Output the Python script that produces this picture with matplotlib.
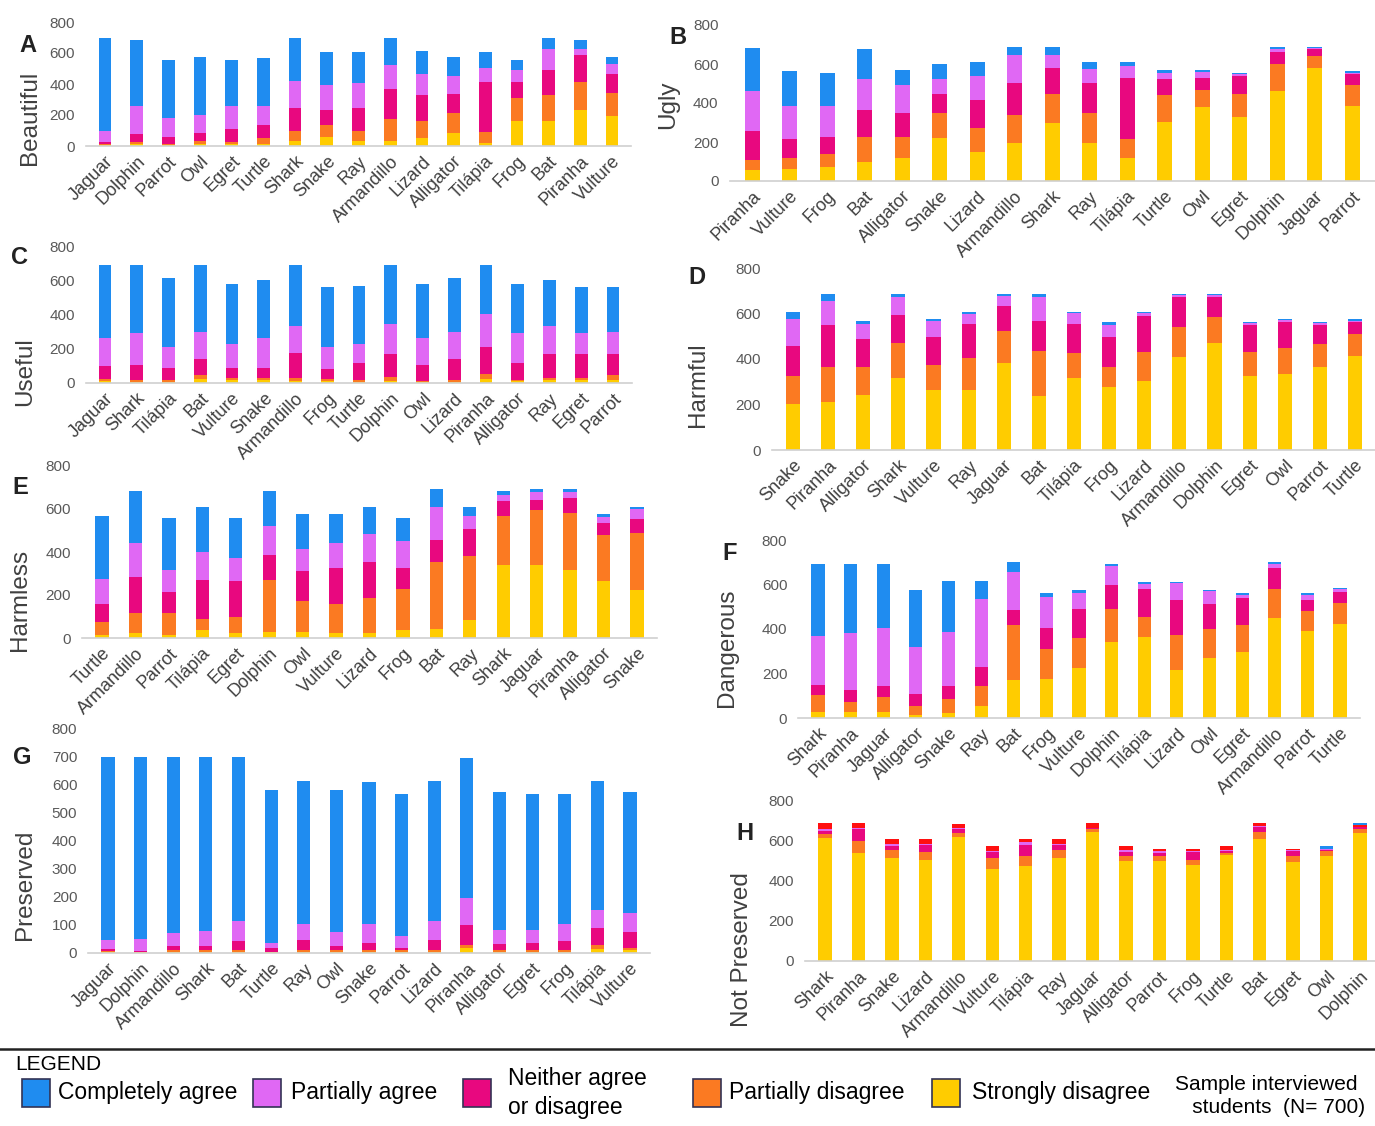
import matplotlib.pyplot as plt
import numpy as np
from matplotlib.patches import Rectangle
from matplotlib.lines import Line2D

plt.rcParams['font.family'] = ['Liberation Sans', 'DejaVu Sans']

# ---- data (counts of students, stacked bottom -> top) ----
levels = ["Strongly disagree", "Partially disagree", "Neither agree\nor disagree",
          "Partially agree", "Completely agree"]
colors = ["#ffcc00", "#fb7a22", "#e8087f", "#e068f4", "#1f8cf0"]
extra_red = "#ff1010"

# A - Beautiful
a_names = ["Jaguar", "Dolphin", "Parrot", "Owl", "Egret", "Turtle", "Shark", "Snake", "Ray",
           "Armandillo", "Lizard", "Alligator", "Tilápia", "Frog", "Bat", "Piranha", "Vulture"]
a_strong = [5, 10, 5, 15, 10, 13, 32, 61, 30, 30, 50, 86, 22, 164, 164, 231, 195]
a_pdis = [5, 18, 8, 17, 18, 37, 65, 75, 67, 143, 114, 124, 71, 143, 162, 182, 149]
a_neither = [18, 48, 48, 54, 80, 86, 145, 95, 145, 195, 165, 127, 322, 108, 167, 177, 119]
a_pagree = [70, 183, 118, 115, 149, 123, 175, 160, 164, 157, 138, 113, 91, 78, 132, 35, 69]
a_comp = [596, 424, 379, 376, 301, 307, 277, 217, 202, 169, 149, 127, 102, 65, 69, 58, 45]

# B - Ugly
b_names = ["Piranha", "Vulture", "Frog", "Bat", "Alligator", "Snake", "Lizard", "Armandillo", "Shark",
           "Ray", "Tilápia", "Turtle", "Owl", "Egret", "Dolphin", "Jaguar", "Parrot"]
b_strong = [55, 59, 72, 100, 119, 219, 150, 197, 297, 197, 119, 303, 379, 328, 459, 581, 386]
b_pdis = [52, 58, 69, 128, 109, 129, 121, 143, 150, 151, 98, 140, 90, 120, 143, 60, 107]
b_neither = [150, 100, 87, 134, 120, 100, 146, 163, 132, 155, 309, 78, 57, 93, 62, 38, 54]
b_pagree = [203, 166, 158, 162, 143, 76, 124, 142, 69, 69, 64, 34, 33, 7, 12, 4, 8]
b_comp = [224, 181, 169, 154, 80, 78, 69, 43, 40, 38, 20, 16, 12, 7, 12, 5, 9]

# C - Useful
c_names = ["Jaguar", "Shark", "Tilápia", "Bat", "Vulture", "Snake", "Armandillo", "Frog", "Turtle",
           "Dolphin", "Owl", "Lizard", "Piranha", "Alligator", "Ray", "Egret", "Parrot"]
c_strong = [12, 8, 8, 24, 16, 16, 12, 12, 8, 12, 6, 8, 24, 12, 16, 16, 20]
c_pdis = [13, 12, 12, 21, 13, 13, 19, 13, 12, 23, 6, 12, 31, 8, 15, 15, 25]
c_neither = [73, 86, 70, 98, 61, 61, 145, 57, 94, 134, 94, 123, 157, 94, 136, 136, 122]
c_pagree = [167, 188, 122, 157, 137, 171, 157, 130, 115, 176, 155, 157, 192, 180, 166, 127, 133]
c_comp = [425, 396, 400, 390, 351, 343, 357, 349, 340, 345, 317, 312, 286, 284, 271, 267, 261]

# D - Harmful
d_names = ["Snake", "Piranha", "Alligator", "Shark", "Vulture", "Ray", "Jaguar", "Bat", "Tilápia",
           "Frog", "Lizard", "Armandillo", "Dolphin", "Egret", "Owl", "Parrot", "Turtle"]
d_strong = [202, 211, 242, 315, 262, 262, 381, 236, 315, 275, 302, 407, 472, 327, 334, 366, 412]
d_pdis = [125, 154, 123, 155, 112, 144, 142, 201, 110, 90, 129, 135, 111, 104, 116, 100, 98]
d_neither = [132, 184, 124, 125, 124, 149, 111, 131, 130, 133, 159, 132, 91, 118, 113, 83, 54]
d_pagree = [117, 107, 65, 76, 68, 43, 43, 106, 46, 51, 11, 7, 7, 8, 7, 8, 4]
d_comp = [32, 30, 14, 15, 10, 10, 9, 12, 7, 12, 7, 5, 5, 4, 6, 4, 6]

# E - Harmless
e_names = ["Turtle", "Armandillo", "Parrot", "Tilápia", "Egret", "Dolphin", "Owl", "Vulture", "Lizard",
           "Frog", "Bat", "Ray", "Shark", "Jaguar", "Piranha", "Alligator", "Snake"]
e_strong = [16, 22, 16, 36, 22, 28, 28, 22, 22, 36, 43, 84, 340, 340, 314, 264, 224]
e_pdis = [59, 94, 100, 54, 74, 244, 146, 136, 164, 194, 311, 296, 227, 255, 267, 213, 265]
e_neither = [83, 167, 98, 180, 168, 116, 137, 168, 168, 96, 103, 125, 70, 49, 71, 56, 65]
e_pagree = [118, 160, 104, 131, 106, 135, 105, 117, 130, 127, 153, 63, 26, 35, 28, 31, 44]
e_comp = [291, 243, 241, 209, 189, 163, 159, 132, 126, 106, 84, 42, 20, 13, 12, 11, 12]

# F - Dangerous
f_names = ["Shark", "Piranha", "Jaguar", "Alligator", "Snake", "Ray", "Bat", "Frog", "Vulture",
           "Dolphin", "Tilápia", "Lizard", "Owl", "Egret", "Armandillo", "Parrot", "Turtle"]
f_strong = [27, 27, 27, 15, 21, 54, 169, 175, 223, 340, 363, 215, 268, 295, 450, 390, 423]
f_pdis = [75, 47, 66, 39, 66, 88, 247, 135, 138, 148, 93, 160, 130, 121, 131, 93, 95]
f_neither = [46, 53, 49, 54, 55, 87, 69, 94, 130, 108, 125, 157, 114, 123, 91, 49, 48]
f_pagree = [222, 256, 262, 213, 244, 307, 172, 140, 72, 88, 23, 73, 57, 15, 18, 21, 12]
f_comp = [320, 307, 286, 256, 231, 81, 42, 19, 14, 6, 7, 6, 8, 9, 9, 10, 6]

# G - Preserved
g_names = ["Jaguar", "Dolphin", "Armandillo", "Shark", "Bat", "Turtle", "Ray", "Owl", "Snake",
           "Parrot", "Lizard", "Piranha", "Alligator", "Egret", "Frog", "Tilápia", "Vulture"]
g_strong = [4, 2, 5, 5, 5, 2, 5, 4, 5, 4, 5, 17, 5, 5, 5, 14, 10]
g_pdis = [3, 1, 6, 6, 6, 3, 6, 7, 6, 6, 5, 12, 6, 6, 6, 15, 7]
g_neither = [6, 3, 14, 14, 30, 12, 35, 14, 24, 9, 36, 69, 20, 25, 30, 60, 56]
g_pagree = [34, 44, 46, 54, 74, 20, 57, 48, 68, 40, 67, 96, 50, 45, 62, 65, 71]
g_comp = [651, 648, 627, 619, 583, 543, 509, 507, 504, 505, 499, 498, 493, 483, 461, 458, 430]

# H - Not Preserved (top red band drawn as in the original figure)
h_names = ["Shark", "Piranha", "Snake", "Lizard", "Armandillo", "Vulture", "Tilápia", "Ray", "Jaguar",
           "Alligator", "Parrot", "Frog", "Turtle", "Bat", "Egret", "Owl", "Dolphin"]
h_strong = [614, 539, 515, 506, 622, 461, 476, 515, 647, 501, 498, 481, 531, 611, 495, 523, 639]
h_pdis = [22, 62, 38, 37, 20, 54, 47, 41, 13, 25, 25, 25, 8, 36, 28, 25, 21]
h_neither = [16, 59, 23, 35, 18, 28, 58, 25, 4, 18, 16, 37, 10, 22, 25, 8, 10]
h_pagree = [7, 7, 8, 6, 7, 8, 13, 3, 3, 9, 9, 8, 7, 7, 5, 3, 2]
h_red = [33, 25, 25, 25, 17, 22, 15, 25, 25, 20, 11, 8, 17, 16, 6, 0, 8]
h_comp = [0, 0, 0, 0, 0, 0, 0, 0, 0, 0, 0, 0, 0, 0, 0, 14, 12]

W, Hpx = 1375, 1126
fig = plt.figure(figsize=(W / 100, Hpx / 100), dpi=100)

panels = [
    # letter, ylabel, names, series, colours, (first bar px, last bar px, y of top px, y of 0 px),
    # ymax, ytick step, letter pos, ylabel pos
    ("A", "Beautiful", a_names, [a_strong, a_pdis, a_neither, a_pagree, a_comp], colors,
     (105, 612, 22, 146), 800, 200, (28, 45), (30, 118)),
    ("B", "Ugly", b_names, [b_strong, b_pdis, b_neither, b_pagree, b_comp], colors,
     (752, 1352, 25, 181), 800, 200, (678, 38), (668, 105)),
    ("C", "Useful", c_names, [c_strong, c_pdis, c_neither, c_pagree, c_comp], colors,
     (105, 613, 246, 383), 800, 200, (20, 257), (25, 372)),
    ("D", "Harmful", d_names, [d_strong, d_pdis, d_neither, d_pagree, d_comp], colors,
     (793, 1355, 268, 450), 800, 200, (697, 277), (698, 385)),
    ("E", "Harmless", e_names, [e_strong, e_pdis, e_neither, e_pagree, e_comp], colors,
     (102, 637, 466, 638), 800, 200, (20, 488), (20, 600)),
    ("F", "Dangerous", f_names, [f_strong, f_pdis, f_neither, f_pagree, f_comp], colors,
     (818, 1340, 540, 718), 800, 200, (730, 553), (727, 648)),
    ("G", "Preserved", g_names, [g_strong, g_pdis, g_neither, g_pagree, g_comp], colors,
     (108, 630, 728, 953), 800, 100, (22, 757), (25, 885)),
    ("H", "Not Preserved", h_names, [h_strong, h_pdis, h_neither, h_pagree, h_red, h_comp],
     colors[:4] + [extra_red, colors[4]],
     (825, 1360, 801, 961), 800, 200, (745, 833), (742, 950)),
]

for letter, ylab, names, series, cols, box, ymax, ystep, lpos, ypos in panels:
    first, last, ytop, ybot = box
    n = len(names)
    step = (last - first) / (n - 1)
    left = first - 0.6 * step
    right = last + 0.6 * step
    ax = fig.add_axes([left / W, 1 - ybot / Hpx, (right - left) / W, (ybot - ytop) / Hpx])
    x = np.arange(n)
    bottom = np.zeros(n)
    for vals, c in zip(series, cols):
        ax.bar(x, vals, 0.4, bottom=bottom, color=c, linewidth=0)
        bottom += np.array(vals)
    ax.set_xlim(-0.6, n - 1 + 0.6)
    ax.set_ylim(0, ymax)
    ax.set_yticks(np.arange(0, ymax + 1, ystep))
    ax.set_xticks(x)
    ax.set_xticklabels(names, rotation=45, ha="right", rotation_mode="anchor",
                       fontsize=13, color="#404040")
    ax.tick_params(axis="y", labelsize=11, labelcolor="#595959", length=0, pad=8)
    ax.tick_params(axis="x", length=0, pad=5)
    for s in ["left", "right", "top"]:
        ax.spines[s].set_visible(False)
    ax.spines["bottom"].set_color("#d0d0d0")
    ax.spines["bottom"].set_linewidth(1.2)
    ax.patch.set_alpha(0)
    fig.text(lpos[0] / W, 1 - lpos[1] / Hpx, letter, fontsize=17, fontweight="bold",
             color="#222222", ha="center", va="center")
    fig.text(ypos[0] / W, 1 - ypos[1] / Hpx, ylab, fontsize=17.5, rotation=90,
             color="#404040", ha="center", va="center")

# ---- separator and legend ----
fig.add_artist(Line2D([0, 1], [1 - 1049 / Hpx, 1 - 1049 / Hpx], transform=fig.transFigure,
                      color="#222222", linewidth=1.8))
fig.text(15 / W, 1 - 1064 / Hpx, "LEGEND", fontsize=15, ha="left", va="center")

leg_items = [(22, 58, colors[4], "Completely agree"),
             (253, 291, colors[3], "Partially agree"),
             (463, 508, colors[2], "Neither agree\nor disagree"),
             (693, 729, colors[1], "Partially disagree"),
             (932, 972, colors[0], "Strongly disagree")]
for bx, tx, c, lab in leg_items:
    fig.add_artist(Rectangle((bx / W, 1 - 1107 / Hpx), 28 / W, 28 / Hpx, transform=fig.transFigure,
                             facecolor=c, edgecolor="#333355", linewidth=1.2))
    fig.text(tx / W, 1 - 1093 / Hpx, lab, fontsize=16.5, ha="left", va="center", linespacing=1.3)

fig.text(1175 / W, 1 - 1096 / Hpx, "Sample interviewed\n   students  (N= 700)", fontsize=15,
         ha="left", va="center", linespacing=1.3)

fig.savefig("out.png", dpi=100)
